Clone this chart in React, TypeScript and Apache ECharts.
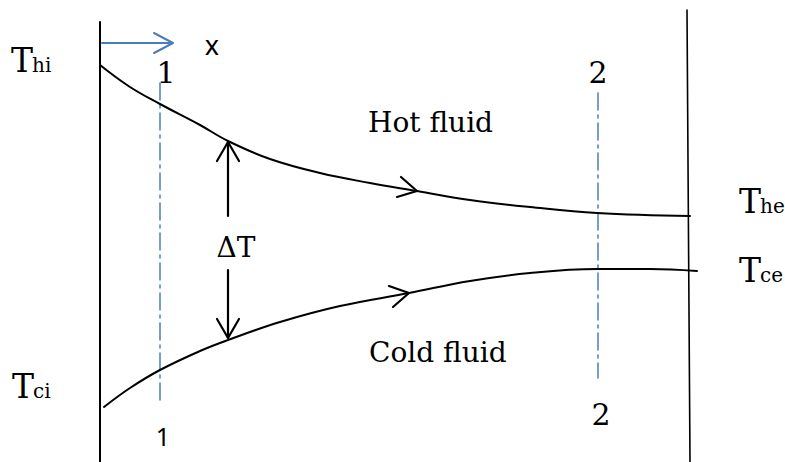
import React, { useEffect, useRef } from "react";
import * as echarts from "echarts";

// Curve points (diagram units = pixels of the 785x462 canvas, y downwards)
const hotCurve: number[][] = [
  [100, 65], [130, 87], [160, 104], [200, 125], [228, 141], [270, 159],
  [320, 173], [370, 183], [417, 191], [470, 200], [530, 207], [597, 213], [690, 216],
];
const coldCurve: number[][] = [
  [104, 407], [130, 388], [160, 370], [200, 351], [228, 340], [280, 322],
  [340, 306], [409, 293], [470, 281], [530, 273], [597, 269], [650, 269], [697, 271],
];
const leftWall: number[][] = [[100, 22], [100, 462]];
const rightWall: number[][] = [[687, 10], [690, 462]];
const section1: number[][] = [[160, 83], [160, 405]];
const section2: number[][] = [[598, 93], [598, 378]];
const xArrowShaft: number[][] = [[102, 43], [172, 43]];
const xArrowHead: number[][] = [[154, 33], [173, 43], [154, 53]];
const dtUpShaft: number[][] = [[228, 143], [228, 216]];
const dtUpHead: number[][] = [[217, 161], [228, 142], [239, 161]];
const dtDownShaft: number[][] = [[228, 270], [228, 337]];
const dtDownHead: number[][] = [[217, 319], [228, 338], [239, 319]];
const hotFlowHead: number[][] = [[401, 177], [417, 191], [397, 197]];
const coldFlowHead: number[][] = [[389, 286], [409, 293], [393, 307]];

// Text labels: [text, x, baseline]
const mainLabels: [string, number, number][] = [
  ["Hot fluid", 368, 133],
  ["Cold fluid", 369, 363],
];
const tempLabels: [string, string, number, number][] = [
  ["T", "hi", 11, 72],
  ["T", "ci", 12, 398],
  ["T", "he", 739, 213],
  ["T", "ce", 739, 282],
];
const sectionLabelsSerif: [string, number, number][] = [
  ["1", 166, 83],
  ["2", 598, 83],
  ["2", 601, 425],
];
const sectionLabelSans: [string, number, number] = ["1", 163, 445];
const xLabel: [string, number, number] = ["x", 212, 54];
const deltaLabel: [string, number, number] = ["ΔT", 236, 258];

const SERIF = "'DejaVu Serif', serif";
const SANS = "'Noto Sans', 'DejaVu Sans', sans-serif";
const BLUE = "#4a7ebb";

export default function App() {
  const ref = useRef<HTMLDivElement>(null);

  useEffect(() => {
    if (!ref.current) return;
    const chart = echarts.init(ref.current, null, { renderer: "svg" });

    const line = (data: number[][], color: string, width: number, smooth: number | boolean = false, type: any = "solid") => ({
      type: "line",
      data,
      symbol: "none",
      smooth,
      silent: true,
      lineStyle: { color, width, type, cap: "round", join: "round" },
    });

    const textEl = (text: string, x: number, baseline: number, size: number, family: string, align = "left") => ({
      type: "text",
      x,
      y: baseline - size * 0.36,
      style: {
        text,
        font: `${size}px ${family}`,
        fill: "#000",
        align,
        verticalAlign: "middle",
      },
    });

    const graphics: any[] = [];
    mainLabels.forEach(([t, x, b]) => graphics.push(textEl(t, x, b, 28, SERIF)));
    tempLabels.forEach(([t, s, x, b]) => {
      graphics.push(textEl(t, x, b, 33, SERIF));
      graphics.push(textEl(s, x + 21, b, 20, SERIF));
    });
    sectionLabelsSerif.forEach(([t, x, b]) => graphics.push(textEl(t, x, b, 30, SERIF, "center")));
    graphics.push(textEl(sectionLabelSans[0], sectionLabelSans[1], sectionLabelSans[2], 25, SANS, "center"));
    graphics.push(textEl(xLabel[0], xLabel[1], xLabel[2], 27, SANS, "center"));
    graphics.push(textEl(deltaLabel[0], deltaLabel[1], deltaLabel[2], 28, SERIF, "center"));

    const dashDot = [17, 5, 3, 5];

    chart.setOption({
      animation: false,
      backgroundColor: "#fff",
      grid: { left: 0, right: 0, top: 0, bottom: 0 },
      xAxis: { type: "value", min: 0, max: 785, show: false },
      yAxis: { type: "value", min: 0, max: 462, inverse: true, show: false },
      series: [
        line(leftWall, "#000", 2),
        line(rightWall, "#000", 1.6),
        line(section1, BLUE, 1.5, false, dashDot),
        line(section2, BLUE, 1.5, false, dashDot),
        line(hotCurve, "#000", 2, 0.4),
        line(coldCurve, "#000", 2, 0.4),
        line(xArrowShaft, BLUE, 2),
        line(xArrowHead, BLUE, 2),
        line(dtUpShaft, "#000", 2.2),
        line(dtUpHead, "#000", 2.2),
        line(dtDownShaft, "#000", 2.2),
        line(dtDownHead, "#000", 2.2),
        line(hotFlowHead, "#000", 2.2),
        line(coldFlowHead, "#000", 2.2),
      ],
      graphic: graphics,
    });

    return () => chart.dispose();
  }, []);

  return (
    <div
      ref={ref}
      style={{ position: "fixed", left: 0, top: 0, width: 785, height: 462, background: "#fff" }}
    />
  );
}
